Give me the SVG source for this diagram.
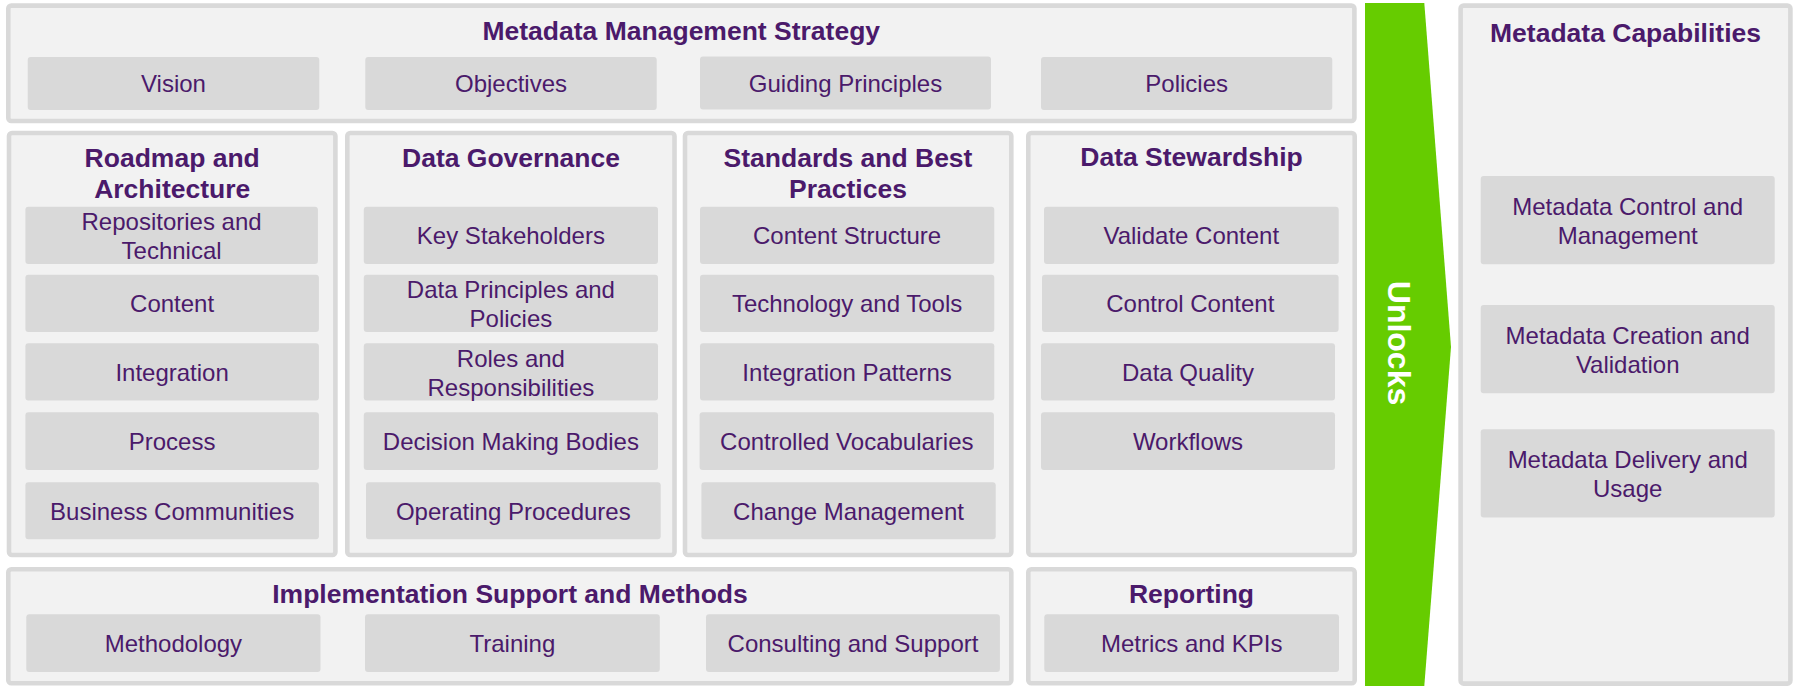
<svg xmlns="http://www.w3.org/2000/svg" width="1800" height="686" viewBox="0 0 1800 686">
  <style>
    .panel { fill: #f2f2f2; stroke: #d9d9d9; stroke-width: 4.6; }
    .item { fill: #d9d9d9; }
    .title { font-family: "Liberation Sans", Arial, sans-serif; font-size: 26.5px; font-weight: bold; fill: #4b1a6b; text-anchor: middle; }
    .label { font-family: "Liberation Sans", Arial, sans-serif; font-size: 24px; fill: #4b1a6b; text-anchor: middle; }
    .unlock { font-family: "Liberation Sans", Arial, sans-serif; font-size: 32px; font-weight: bold; fill: #ffffff; text-anchor: middle; }
  </style>
  <rect width="1800" height="686" fill="#ffffff"/>

  <!-- Strategy band -->
  <g id="strategy">
    <rect class="panel" x="8.3" y="5.6" width="1346.1" height="115.4" rx="3"/>
    <text class="title" x="681.3" y="40">Metadata Management Strategy</text>
    <g id="vision"><rect class="item" x="27.7" y="57" width="291.6" height="53" rx="3"/><text class="label" x="173.5" y="92">Vision</text></g>
    <g id="objectives"><rect class="item" x="365.3" y="57" width="291.4" height="53" rx="3"/><text class="label" x="511" y="92">Objectives</text></g>
    <g id="guiding-principles"><rect class="item" x="700" y="56.5" width="291" height="53" rx="3"/><text class="label" x="845.5" y="91.5">Guiding Principles</text></g>
    <g id="policies"><rect class="item" x="1041" y="57" width="291.3" height="53" rx="3"/><text class="label" x="1186.7" y="92">Policies</text></g>
  </g>

  <!-- Roadmap and Architecture -->
  <g id="roadmap">
    <rect class="panel" x="9" y="133" width="326.4" height="422" rx="3"/>
    <text class="title" x="172.2" y="166.7">Roadmap and</text>
    <text class="title" x="172.2" y="198.3">Architecture</text>
    <g id="repositories"><rect class="item" x="25.4" y="206.7" width="292.5" height="57.3" rx="3"/><text class="label" x="171.6" y="230.1">Repositories and</text><text class="label" x="171.6" y="259.2">Technical</text></g>
    <g id="content"><rect class="item" x="25.4" y="274.7" width="293.5" height="57.3" rx="3"/><text class="label" x="172.1" y="311.9">Content</text></g>
    <g id="integration"><rect class="item" x="25.4" y="343.3" width="293.5" height="57.3" rx="3"/><text class="label" x="172.1" y="380.7">Integration</text></g>
    <g id="process"><rect class="item" x="25.4" y="412.3" width="293.5" height="57.7" rx="3"/><text class="label" x="172.1" y="449.9">Process</text></g>
    <g id="business-communities"><rect class="item" x="25.4" y="482.3" width="293.5" height="57" rx="3"/><text class="label" x="172.1" y="519.5">Business Communities</text></g>
  </g>

  <!-- Data Governance -->
  <g id="data-governance">
    <rect class="panel" x="347.3" y="133" width="327.2" height="422" rx="3"/>
    <text class="title" x="511" y="166.7">Data Governance</text>
    <g id="key-stakeholders"><rect class="item" x="363.8" y="206.7" width="294.2" height="57.3" rx="3"/><text class="label" x="510.9" y="244">Key Stakeholders</text></g>
    <g id="data-principles"><rect class="item" x="363.8" y="274.7" width="294.2" height="57.3" rx="3"/><text class="label" x="510.9" y="297.9">Data Principles and</text><text class="label" x="510.9" y="327">Policies</text></g>
    <g id="roles"><rect class="item" x="363.8" y="343.3" width="294.2" height="57.3" rx="3"/><text class="label" x="510.9" y="366.7">Roles and</text><text class="label" x="510.9" y="395.8">Responsibilities</text></g>
    <g id="decision-bodies"><rect class="item" x="363.8" y="412.3" width="294.2" height="57.7" rx="3"/><text class="label" x="510.9" y="449.9">Decision Making Bodies</text></g>
    <g id="operating-procedures"><rect class="item" x="366" y="482.3" width="294.7" height="57" rx="3"/><text class="label" x="513.3" y="519.5">Operating Procedures</text></g>
  </g>

  <!-- Standards and Best Practices -->
  <g id="standards">
    <rect class="panel" x="685" y="133" width="326.3" height="422" rx="3"/>
    <text class="title" x="848" y="166.7">Standards and Best</text>
    <text class="title" x="848" y="198.3">Practices</text>
    <g id="content-structure"><rect class="item" x="700" y="206.7" width="294.3" height="57.3" rx="3"/><text class="label" x="847.1" y="244">Content Structure</text></g>
    <g id="technology-tools"><rect class="item" x="700" y="274.7" width="294.3" height="57.3" rx="3"/><text class="label" x="847.1" y="311.9">Technology and Tools</text></g>
    <g id="integration-patterns"><rect class="item" x="700" y="343.3" width="294.3" height="57.3" rx="3"/><text class="label" x="847.1" y="380.7">Integration Patterns</text></g>
    <g id="controlled-vocabularies"><rect class="item" x="699.6" y="412.3" width="294.3" height="57.7" rx="3"/><text class="label" x="846.8" y="449.9">Controlled Vocabularies</text></g>
    <g id="change-management"><rect class="item" x="701.4" y="482.3" width="294.3" height="57" rx="3"/><text class="label" x="848.5" y="519.5">Change Management</text></g>
  </g>

  <!-- Data Stewardship -->
  <g id="stewardship">
    <rect class="panel" x="1028.3" y="133" width="326.4" height="422" rx="3"/>
    <text class="title" x="1191.5" y="166.2">Data Stewardship</text>
    <g id="validate-content"><rect class="item" x="1044" y="206.7" width="294.7" height="57.3" rx="3"/><text class="label" x="1191.3" y="244">Validate Content</text></g>
    <g id="control-content"><rect class="item" x="1042" y="274.7" width="296.6" height="57.3" rx="3"/><text class="label" x="1190.3" y="311.9">Control Content</text></g>
    <g id="data-quality"><rect class="item" x="1041" y="343.3" width="294" height="57.3" rx="3"/><text class="label" x="1188" y="380.7">Data Quality</text></g>
    <g id="workflows"><rect class="item" x="1041" y="412.3" width="294" height="57.7" rx="3"/><text class="label" x="1188" y="449.9">Workflows</text></g>
  </g>

  <!-- Implementation Support and Methods -->
  <g id="implementation">
    <rect class="panel" x="8.3" y="569.3" width="1003" height="114" rx="3"/>
    <text class="title" x="510" y="602.7">Implementation Support and Methods</text>
    <g id="methodology"><rect class="item" x="26.3" y="614.3" width="294.2" height="57.7" rx="3"/><text class="label" x="173.4" y="651.9">Methodology</text></g>
    <g id="training"><rect class="item" x="365" y="614.3" width="294.8" height="57.7" rx="3"/><text class="label" x="512.4" y="651.9">Training</text></g>
    <g id="consulting"><rect class="item" x="706" y="614.3" width="293.9" height="57.7" rx="3"/><text class="label" x="853" y="651.9">Consulting and Support</text></g>
  </g>

  <!-- Reporting -->
  <g id="reporting">
    <rect class="panel" x="1028.3" y="569.3" width="326.4" height="114" rx="3"/>
    <text class="title" x="1191.5" y="602.5">Reporting</text>
    <g id="metrics-kpis"><rect class="item" x="1044.3" y="614.3" width="294.7" height="57.7" rx="3"/><text class="label" x="1191.7" y="651.9">Metrics and KPIs</text></g>
  </g>

  <!-- Unlocks arrow between the framework and the capabilities -->
  <g id="connectors">
    <polygon points="1365,3 1424.3,3 1451,347 1424.3,686 1365,686" fill="#66cc00"/>
    <text class="unlock" transform="translate(1388,343) rotate(90)" x="0" y="0">Unlocks</text>
  </g>

  <!-- Metadata Capabilities -->
  <g id="capabilities">
    <rect class="panel" x="1460.6" y="5.6" width="329.8" height="678" rx="3"/>
    <text class="title" x="1625.5" y="42.3">Metadata Capabilities</text>
    <g id="control-management"><rect class="item" x="1480.7" y="176" width="294" height="88.3" rx="3"/><text class="label" x="1627.7" y="214.9">Metadata Control and</text><text class="label" x="1627.7" y="244">Management</text></g>
    <g id="creation-validation"><rect class="item" x="1480.7" y="305" width="294" height="88.3" rx="3"/><text class="label" x="1627.7" y="343.9">Metadata Creation and</text><text class="label" x="1627.7" y="373">Validation</text></g>
    <g id="delivery-usage"><rect class="item" x="1480.7" y="429.3" width="294" height="88.3" rx="3"/><text class="label" x="1627.7" y="468.2">Metadata Delivery and</text><text class="label" x="1627.7" y="497.3">Usage</text></g>
  </g>
</svg>
